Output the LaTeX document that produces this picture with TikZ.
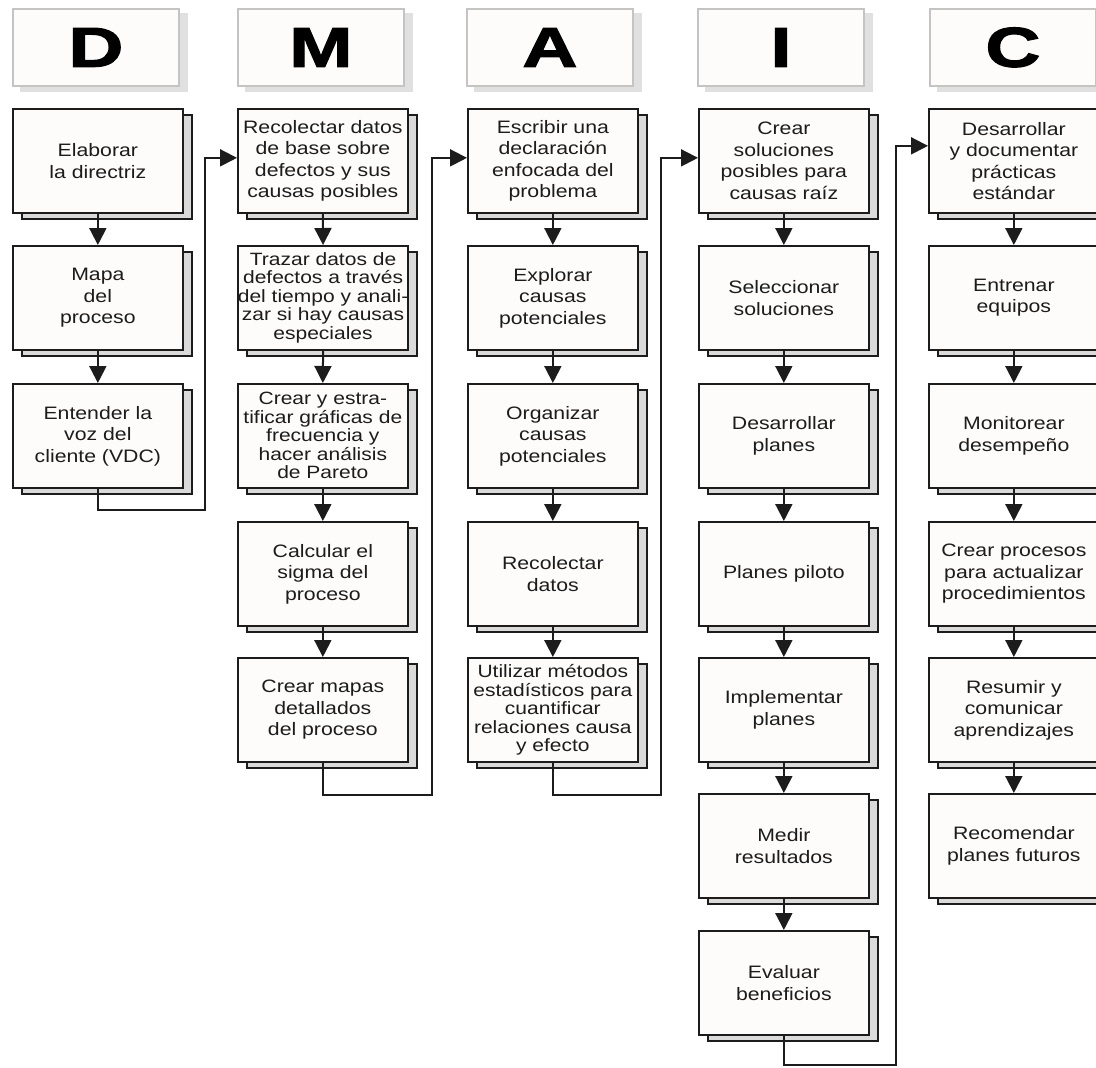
\documentclass[tikz,border=0pt]{standalone}
\usepackage{fontspec}
\setmainfont{Liberation Sans}[FakeStretch=1.18]
\newfontfamily\letterfont{Liberation Sans}[FakeStretch=1.36, BoldFeatures={FakeBold=2.2}]
\usetikzlibrary{shadows,arrows.meta}

\definecolor{boxfill}{HTML}{FDFCFA}
\definecolor{ink}{HTML}{1C1C1C}
\definecolor{shadefill}{HTML}{DADADA}
\definecolor{headline}{HTML}{C4C4C4}
\definecolor{headshade}{HTML}{E0E0E0}

\newcommand{\boxtext}{\fontsize{18}{21.5}\selectfont}
\newcommand{\boxtight}{\fontsize{17.8}{18.5}\selectfont}

\tikzset{
  stepbox/.style={draw=ink, line width=1.7pt, fill=boxfill, text=ink,
    minimum width=170pt, minimum height=104pt, inner sep=0pt,
    align=center, anchor=north west, font=\boxtext,
    copy shadow={shadow xshift=9pt, shadow yshift=-6pt, fill=shadefill,
      draw=ink, line width=2pt}},
  tightbox/.style={stepbox, font=\boxtight},
  headbox/.style={draw=headline, line width=1.8pt, fill=boxfill, text=black,
    minimum width=166pt, minimum height=77pt, inner sep=0pt,
    anchor=north west, font=\letterfont\bfseries\fontsize{56}{56}\selectfont,
    copy shadow={shadow xshift=8pt, shadow yshift=-5pt, fill=headshade,
      draw=headshade, line width=1.4pt}},
  conn/.style={draw=ink, line width=2pt,
    -{Triangle[length=17pt,width=17pt]}},
  link/.style={draw=ink, line width=2pt}
}

\begin{document}
\begin{tikzpicture}[x=1pt, y=-1pt]
\useasboundingbox[fill=white] (0,0) rectangle (1096,1068);

% phase headers
\node[headbox] (hd) at (12,8)  {D};
\node[headbox] (hm) at (237,8) {M};
\node[headbox] (ha) at (466,8) {A};
\node[headbox] (hi) at (697,8) {I};
\node[headbox] (hc) at (929,8) {C};

% Define
\node[stepbox] (d1) at (12,108) {Elaborar\\la directriz};
\node[stepbox] (d2) at (12,245) {Mapa\\del\\proceso};
\node[stepbox] (d3) at (12,383) {Entender la\\voz del\\cliente (VDC)};

% Measure
\node[stepbox]  (m1) at (237,108) {Recolectar datos\\de base sobre\\defectos y sus\\causas posibles};
\node[tightbox] (m2) at (237,245) {Trazar datos de\\defectos a través\\del tiempo y anali-\\zar si hay causas\\especiales};
\node[tightbox] (m3) at (237,383) {Crear y estra-\\tificar gráficas de\\frecuencia y\\hacer análisis\\de Pareto};
\node[stepbox]  (m4) at (237,521) {Calcular el\\sigma del\\proceso};
\node[stepbox]  (m5) at (237,657) {Crear mapas\\detallados\\del proceso};

% Analyze
\node[stepbox]  (a1) at (467,108) {Escribir una\\declaración\\enfocada del\\problema};
\node[stepbox]  (a2) at (467,245) {Explorar\\causas\\potenciales};
\node[stepbox]  (a3) at (467,383) {Organizar\\causas\\potenciales};
\node[stepbox]  (a4) at (467,521) {Recolectar\\datos};
\node[tightbox] (a5) at (467,657) {Utilizar métodos\\estadísticos para\\cuantificar\\relaciones causa\\y efecto};

% Improve
\node[stepbox] (i1) at (698,108) {Crear\\soluciones\\posibles para\\causas raíz};
\node[stepbox] (i2) at (698,245) {Seleccionar\\soluciones};
\node[stepbox] (i3) at (698,383) {Desarrollar\\planes};
\node[stepbox] (i4) at (698,521) {Planes piloto};
\node[stepbox] (i5) at (698,657) {Implementar\\planes};
\node[stepbox] (i6) at (698,793) {Medir\\resultados};
\node[stepbox] (i7) at (698,930) {Evaluar\\beneficios};

% Control
\node[stepbox] (c1) at (928,108) {Desarrollar\\y documentar\\prácticas\\estándar};
\node[stepbox] (c2) at (928,245) {Entrenar\\equipos};
\node[stepbox] (c3) at (928,383) {Monitorear\\desempeño};
\node[stepbox] (c4) at (928,521) {Crear procesos\\para actualizar\\procedimientos};
\node[stepbox] (c5) at (928,657) {Resumir y\\comunicar\\aprendizajes};
\node[stepbox] (c6) at (928,793) {Recomendar\\planes futuros};

% arrows inside each column
\foreach \a/\b in {d1/d2, d2/d3,
                   m1/m2, m2/m3, m3/m4, m4/m5,
                   a1/a2, a2/a3, a3/a4, a4/a5,
                   i1/i2, i2/i3, i3/i4, i4/i5, i5/i6, i6/i7,
                   c1/c2, c2/c3, c3/c4, c4/c5, c5/c6}
  \draw[conn] (\a.south) -- (\b.north);

% links from one phase to the next
\coordinate (jdm) at (205,510);
\coordinate (jma) at (432,795);
\coordinate (jai) at (661,795);
\coordinate (jic) at (896,1065);

\draw[conn] (d3.south) |- (jdm) |- ([yshift=3pt]m1.west);
\draw[conn] (m5.south) |- (jma) |- ([yshift=3pt]a1.west);
\draw[conn] (a5.south) |- (jai) |- ([yshift=3pt]i1.west);
\draw[conn] (i7.south) |- (jic) |- ([yshift=15pt]c1.west);
\end{tikzpicture}
\end{document}
